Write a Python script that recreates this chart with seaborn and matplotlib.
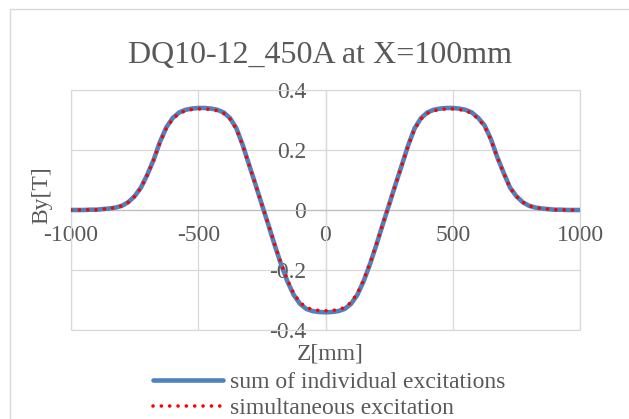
import matplotlib
matplotlib.use("Agg")
import matplotlib.pyplot as plt
import seaborn as sns
import pandas as pd
from matplotlib.patches import Rectangle
from matplotlib.lines import Line2D

# ---- data ----
z_mm = [-1000, -975, -950, -925, -900, -875, -850, -825, -800, -775,
        -750, -725, -700, -675, -650, -625, -600, -575, -550, -525,
        -500, -475, -450, -425, -400, -375, -350, -325, -300, -275,
        -250, -225, -200, -175, -150, -125, -100, -75, -50, -25,
        0,
        25, 50, 75, 100, 125, 150, 175, 200, 225, 250,
        275, 300, 325, 350, 375, 400, 425, 450, 475, 500,
        525, 550, 575, 600, 625, 650, 675, 700, 725, 750,
        775, 800, 825, 850, 875, 900, 925, 950, 975, 1000]
by_sum = [0.000, 0.000, 0.000, 0.001, 0.001, 0.003, 0.005, 0.008, 0.014, 0.026,
          0.046, 0.075, 0.118, 0.168, 0.228, 0.276, 0.307, 0.325, 0.334, 0.338,
          0.340, 0.340, 0.338, 0.334, 0.325, 0.306, 0.272, 0.216, 0.150, 0.085,
          0.018, -0.048, -0.116, -0.180, -0.237, -0.283, -0.313, -0.330, -0.337, -0.340,
          -0.341,
          -0.340, -0.337, -0.330, -0.313, -0.283, -0.237, -0.180, -0.116, -0.048, 0.018,
          0.085, 0.150, 0.216, 0.272, 0.306, 0.325, 0.334, 0.338, 0.340, 0.340,
          0.338, 0.334, 0.325, 0.307, 0.282, 0.236, 0.176, 0.124, 0.075, 0.046,
          0.026, 0.014, 0.008, 0.005, 0.003, 0.001, 0.001, 0.000, 0.000, 0.000]
by_sim = [0.000, 0.000, 0.000, 0.001, 0.001, 0.003, 0.005, 0.008, 0.014, 0.026,
          0.045, 0.074, 0.117, 0.167, 0.226, 0.273, 0.304, 0.322, 0.331, 0.335,
          0.337, 0.337, 0.335, 0.331, 0.322, 0.303, 0.270, 0.214, 0.149, 0.084,
          0.018, -0.047, -0.114, -0.177, -0.233, -0.278, -0.308, -0.325, -0.332, -0.335,
          -0.336,
          -0.335, -0.332, -0.325, -0.308, -0.278, -0.233, -0.177, -0.114, -0.047, 0.018,
          0.084, 0.149, 0.214, 0.270, 0.303, 0.322, 0.331, 0.335, 0.337, 0.337,
          0.335, 0.331, 0.322, 0.304, 0.279, 0.234, 0.175, 0.123, 0.074, 0.045,
          0.026, 0.014, 0.008, 0.005, 0.003, 0.001, 0.001, 0.000, 0.000, 0.000]
series_names = ["sum of individual excitations", "simultaneous excitation"]
x_ticks = [-1000, -500, 0, 500, 1000]
y_ticks = [-0.4, -0.2, 0, 0.2, 0.4]
y_tick_labels = ["-0.4", "-0.2", "0", "0.2", "0.4"]
title_text = "DQ10-12_450A at X=100mm"
x_label = "Z[mm]"
y_label = "By[T]"

BLUE = "#4f81bd"
RED = "#ff0000"
GRID = "#d9d9d9"
TEXT = "#595959"
DOT_STYLE = (0, (0.01, 2.3))

sns.set_theme(style="white")
plt.rcParams["font.family"] = ["Liberation Serif", "DejaVu Serif"]

fig = plt.figure(figsize=(6.29, 4.19), dpi=100)
W, H = 629, 419
ax = fig.add_axes([71 / W, 1 - 330 / H, 509 / W, 240 / H])

df = pd.DataFrame({"Z": z_mm, "sum": by_sum, "sim": by_sim})
sns.lineplot(data=df, x="Z", y="sum", ax=ax, color=BLUE, lw=3.3, zorder=3)
sns.lineplot(data=df, x="Z", y="sim", ax=ax, color=RED, lw=2.6, zorder=4,
             linestyle=DOT_STYLE, dash_capstyle="round")

ax.set_xlim(-1000, 1000)
ax.set_ylim(-0.4, 0.4)
ax.set_xticks(x_ticks)
ax.set_xticklabels([str(t) for t in x_ticks])
ax.set_yticks(y_ticks)
ax.set_yticklabels(y_tick_labels)
ax.grid(True, color=GRID, lw=0.9)
ax.set_axisbelow(True)
ax.set_xlabel("")
ax.set_ylabel("")
if ax.get_legend():
    ax.get_legend().remove()

for s in ["top", "right"]:
    ax.spines[s].set_visible(False)
ax.spines["bottom"].set_position(("data", 0))
ax.spines["bottom"].set_color("#bfbfbf")
ax.spines["bottom"].set_linewidth(0.9)
ax.spines["left"].set_position(("data", 0))
ax.spines["left"].set_color(GRID)
ax.spines["left"].set_linewidth(0.9)

ax.tick_params(axis="x", length=0, pad=11, labelsize=17, labelcolor=TEXT)
ax.tick_params(axis="y", length=0, pad=14, labelsize=17, labelcolor=TEXT)

ax.add_patch(Rectangle((0, 0), 1, 1, transform=ax.transAxes, fill=False,
                       ec=GRID, lw=0.9, clip_on=False, zorder=1))

# outer chart-area border
fig.patches.append(Rectangle((9.5 / W, -0.1), 1.2, 1 - 9.5 / H + 0.1,
                             transform=fig.transFigure, fill=False,
                             ec=GRID, lw=1.0))

fig.text(320 / W, 1 - 55 / H, title_text, ha="center", va="center",
         fontsize=23, color=TEXT)
fig.text(42 / W, 1 - 195 / H, y_label, ha="center", va="center",
         rotation=90, fontsize=17, color=TEXT)
fig.text(330 / W, 1 - 354 / H, x_label, ha="center", va="center",
         fontsize=17, color=TEXT)

handles = [Line2D([], [], color=BLUE, lw=3.3),
           Line2D([], [], color=RED, lw=2.6, linestyle=DOT_STYLE,
                  dash_capstyle="round")]
fig.legend(handles, series_names, loc="center",
           bbox_to_anchor=(329 / W, 1 - 395.5 / H), frameon=False,
           fontsize=17, handlelength=2.95, handletextpad=0.3,
           labelspacing=0.2, borderpad=0, labelcolor=TEXT)

fig.savefig("out.png", dpi=100)
